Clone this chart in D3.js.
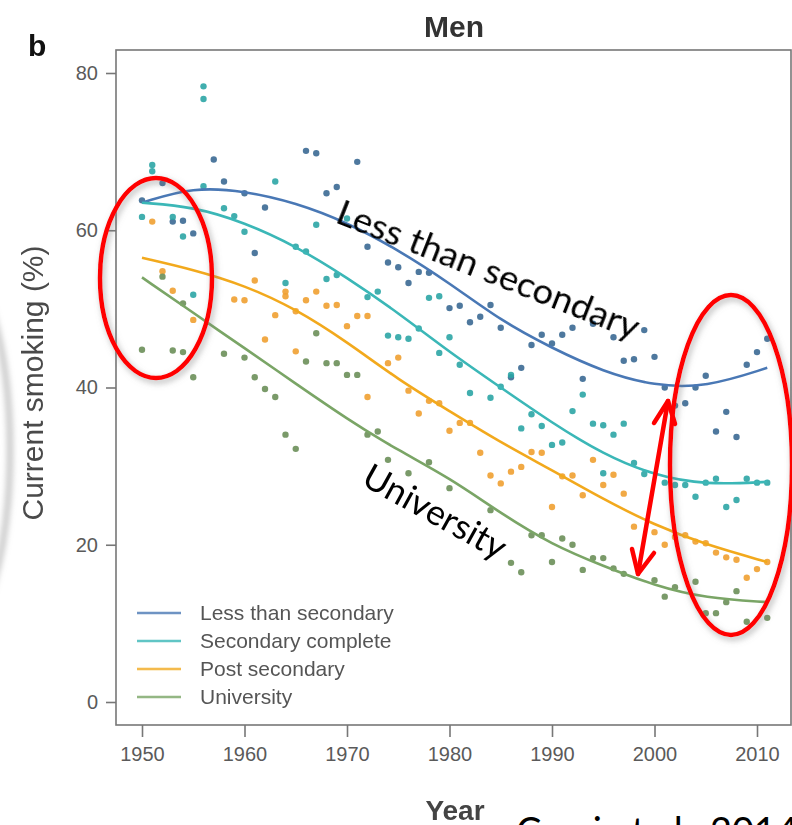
<!DOCTYPE html>
<html>
<head>
<meta charset="utf-8">
<script src="https://cdn.jsdelivr.net/npm/d3@7"></script>
<style>
body { margin: 0; background: #fff; }
</style>
</head>
<body>
<script>
// education groups
const groups = ["Less than secondary", "Secondary complete", "Post secondary", "University"];
const lineColors = ["#4a78b5", "#3ab7b7", "#f2a91f", "#7aa566"];
const dotColors = ["#3b6a93", "#2ba5a5", "#f0a030", "#6c8f5a"];

// survey points [year, % smoking]
const lessPts = [[1950,63.8],[1952,66.0],[1953,61.1],[1954,61.2],[1955,59.6],[1957,69.0],[1958,66.2],[1960,64.7],[1961,57.1],[1962,62.9],[1966,70.1],[1967,69.8],[1968,64.7],[1969,65.5],[1971,68.7],[1972,57.9],[1974,55.9],[1975,55.3],[1976,53.3],[1977,54.7],[1978,54.6],[1980,50.1],[1981,50.4],[1982,48.3],[1983,49.0],[1984,50.5],[1985,47.6],[1986,41.3],[1987,42.5],[1988,45.4],[1989,46.7],[1990,45.6],[1991,46.7],[1992,47.6],[1993,41.1],[1994,48.1],[1996,46.4],[1997,43.4],[1998,43.6],[1999,47.3],[2000,43.9],[2001,40.0],[2002,37.7],[2003,38.0],[2004,40.0],[2005,41.5],[2006,34.4],[2007,36.9],[2008,33.7],[2009,42.9],[2010,44.5],[2011,46.2]];
const secPts = [[1950,61.7],[1951,68.3],[1951,67.5],[1953,61.7],[1954,59.2],[1955,51.8],[1956,78.3],[1956,76.7],[1956,65.6],[1958,62.8],[1959,61.8],[1960,59.8],[1963,66.2],[1964,53.3],[1965,57.9],[1966,57.3],[1967,60.7],[1968,53.8],[1969,54.3],[1970,61.5],[1972,51.5],[1973,52.2],[1974,46.6],[1975,46.4],[1976,46.2],[1977,47.5],[1978,51.4],[1979,51.6],[1979,44.4],[1980,46.4],[1981,42.9],[1982,39.3],[1984,38.7],[1985,40.1],[1986,41.6],[1987,34.8],[1988,36.6],[1989,35.1],[1990,32.7],[1991,33.0],[1992,37.0],[1993,39.1],[1994,35.4],[1995,35.2],[1995,29.1],[1996,34.0],[1997,35.4],[1998,30.4],[1999,29.0],[2001,27.9],[2002,27.6],[2003,27.6],[2004,26.1],[2005,27.9],[2006,28.4],[2007,24.8],[2008,25.7],[2009,28.4],[2010,27.9],[2011,27.9]];
const postPts = [[1951,61.1],[1952,54.8],[1953,52.3],[1955,48.6],[1959,51.2],[1960,51.1],[1961,53.6],[1962,46.1],[1963,49.2],[1964,52.2],[1964,51.6],[1965,49.7],[1965,44.6],[1966,51.1],[1967,52.2],[1968,50.4],[1969,50.5],[1970,47.8],[1971,49.1],[1972,49.1],[1972,38.8],[1974,43.1],[1975,43.8],[1976,39.6],[1977,36.7],[1978,38.3],[1979,38.0],[1980,34.5],[1981,35.5],[1982,35.5],[1983,31.7],[1984,28.8],[1985,27.8],[1986,29.3],[1987,29.9],[1988,31.8],[1989,31.7],[1990,24.8],[1991,28.7],[1992,28.8],[1993,26.3],[1994,30.8],[1995,27.6],[1996,28.9],[1997,26.5],[1998,22.3],[2000,21.6],[2001,20.0],[2002,21.0],[2003,21.2],[2004,20.4],[2005,20.2],[2006,19.0],[2007,18.4],[2008,18.1],[2009,15.8],[2010,16.9],[2011,17.8]];
const uniPts = [[1950,44.8],[1952,54.1],[1953,44.7],[1954,44.5],[1954,50.7],[1955,41.3],[1958,44.3],[1960,43.8],[1961,41.3],[1962,39.8],[1963,38.8],[1964,34.0],[1965,32.2],[1966,43.3],[1967,46.9],[1968,43.1],[1969,43.1],[1970,41.6],[1971,41.6],[1972,34.0],[1973,34.4],[1974,30.8],[1976,29.1],[1978,30.5],[1980,27.2],[1984,24.4],[1986,17.7],[1987,16.5],[1988,21.2],[1989,21.2],[1990,17.8],[1991,20.8],[1992,20.0],[1993,16.8],[1994,18.3],[1995,18.3],[1996,17.0],[1997,16.3],[2000,15.5],[2001,13.4],[2002,14.6],[2004,15.3],[2005,11.3],[2006,11.3],[2007,12.7],[2008,14.1],[2009,10.2],[2011,10.7]];

// smoothed trend lines
const fitYears = [1950, 1955, 1960, 1965, 1970, 1975, 1980, 1985, 1990, 1995, 2000, 2005, 2011];
const lessFit = [63.5, 65.5, 65.0, 63.5, 61.0, 57.5, 53.3, 48.5, 45.0, 42.0, 40.2, 40.0, 42.5];
const secFit = [63.5, 63.0, 61.0, 58.0, 54.0, 49.5, 44.5, 40.0, 35.5, 31.5, 28.8, 27.6, 28.0];
const postFit = [56.5, 55.0, 53.0, 50.0, 45.8, 41.0, 37.0, 33.0, 29.5, 25.8, 22.5, 20.0, 17.8];
const uniFit = [54.0, 49.5, 45.0, 40.5, 36.0, 32.0, 28.5, 24.0, 20.0, 17.3, 14.8, 13.2, 12.7];

const xTicks = [1950, 1960, 1970, 1980, 1990, 2000, 2010];
const yTicks = [0, 20, 40, 60, 80];

const allPts = [lessPts, secPts, postPts, uniPts];
const allFits = [lessFit, secFit, postFit, uniFit];

const width = 792, height = 825;
const box = { left: 116, top: 50, right: 791, bottom: 725 };

const svg = d3.select("body").append("svg")
    .attr("width", width)
    .attr("height", height)
    .style("font-family", "'Liberation Sans', Arial, sans-serif");

const defs = svg.append("defs");
const shadow = defs.append("filter").attr("id", "shadow")
    .attr("x", "-20%").attr("y", "-20%").attr("width", "140%").attr("height", "140%");
shadow.append("feDropShadow")
    .attr("dx", 2).attr("dy", 3).attr("stdDeviation", 3)
    .attr("flood-color", "#777").attr("flood-opacity", 0.55);
defs.append("filter").attr("id", "soft")
    .append("feGaussianBlur").attr("stdDeviation", 0.6);
defs.append("filter").attr("id", "blur3")
    .append("feGaussianBlur").attr("stdDeviation", 3);

const x = d3.scaleLinear().domain([1950, 2010]).range([142, 757]);
const y = d3.scaleLinear().domain([0, 80]).range([702, 73]);

// faint cut-off ellipse on left edge
svg.append("ellipse")
    .attr("cx", -48).attr("cy", 450).attr("rx", 58).attr("ry", 190)
    .attr("fill", "none").attr("stroke", "#aaa").attr("stroke-width", 4)
    .attr("filter", "url(#blur3)");

// plot frame
svg.append("rect")
    .attr("x", box.left).attr("y", box.top)
    .attr("width", box.right - box.left).attr("height", box.bottom - box.top)
    .attr("fill", "none").attr("stroke", "#777").attr("stroke-width", 1.6);

// axes
const yAxis = svg.append("g")
    .attr("transform", `translate(${box.left},0)`)
    .call(d3.axisLeft(y).tickValues(yTicks).tickSize(10).tickPadding(8));
const xAxis = svg.append("g")
    .attr("transform", `translate(0,${box.bottom})`)
    .call(d3.axisBottom(x).tickValues(xTicks).tickFormat(d3.format("d")).tickSize(12).tickPadding(10));
[yAxis, xAxis].forEach(a => {
    a.select(".domain").remove();
    a.selectAll("line").attr("stroke", "#777").attr("stroke-width", 1.6);
    a.selectAll("text").attr("fill", "#5a5a5a").style("font-size", "20px")
        .style("font-family", "'Liberation Sans', Arial, sans-serif");
});

const plot = svg.append("g").attr("filter", "url(#soft)");

// points
allPts.forEach((pts, i) => {
    plot.append("g")
        .selectAll("circle")
        .data(pts)
        .enter().append("circle")
        .attr("cx", d => x(d[0]))
        .attr("cy", d => y(d[1]))
        .attr("r", 3.2)
        .attr("fill", dotColors[i])
        .attr("opacity", 0.9);
});

// trend lines
const line = d3.line()
    .x(d => x(d[0]))
    .y(d => y(d[1]))
    .curve(d3.curveBasis);
allFits.forEach((fit, i) => {
    plot.append("path")
        .datum(fitYears.map((yr, j) => [yr, fit[j]]))
        .attr("d", line)
        .attr("fill", "none")
        .attr("stroke", lineColors[i])
        .attr("stroke-width", 2.6);
});

// legend
const legend = svg.append("g").attr("filter", "url(#soft)");
groups.forEach((g, i) => {
    const ly = 613 + i * 28;
    legend.append("line")
        .attr("x1", 137).attr("x2", 181).attr("y1", ly).attr("y2", ly)
        .attr("stroke", lineColors[i]).attr("stroke-width", 2.4).attr("opacity", 0.8);
    legend.append("text")
        .attr("x", 200).attr("y", ly + 7)
        .attr("fill", "#555").style("font-size", "21px")
        .text(g);
});

// titles
svg.append("text").attr("x", 454).attr("y", 37)
    .attr("text-anchor", "middle").attr("fill", "#333")
    .style("font-size", "30px").style("font-weight", "bold")
    .text("Men");
svg.append("text").attr("x", 28).attr("y", 56)
    .attr("fill", "#111").style("font-size", "30px").style("font-weight", "bold")
    .text("b");
svg.append("text").attr("x", 455).attr("y", 820)
    .attr("text-anchor", "middle").attr("fill", "#444")
    .style("font-size", "28px").style("font-weight", "bold")
    .text("Year");
svg.append("text")
    .attr("transform", "translate(43,383) rotate(-90)")
    .attr("text-anchor", "middle").attr("fill", "#4a4a4a")
    .style("font-size", "30px")
    .text("Current smoking (%)");

// annotations
const anno = svg.append("g").style("font-family", "Lato, 'Open Sans', sans-serif").attr("fill", "#000");
anno.append("text")
    .attr("transform", "translate(334,222) rotate(21.5)")
    .attr("textLength", 322).attr("lengthAdjust", "spacingAndGlyphs")
    .style("font-size", "35px")
    .text("Less than secondary");
anno.append("text")
    .attr("transform", "translate(360,484) rotate(29)")
    .attr("textLength", 158).attr("lengthAdjust", "spacingAndGlyphs")
    .style("font-size", "35px")
    .text("University");
anno.append("text")
    .attr("x", 516).attr("y", 845)
    .style("font-size", "38px")
    .text("Corsi et al., 2014");

// red highlights
const red = svg.append("g").attr("fill", "none").attr("stroke", "#f00").attr("stroke-width", 4.5);
red.append("ellipse").attr("cx", 156).attr("cy", 278).attr("rx", 56).attr("ry", 100)
    .attr("filter", "url(#shadow)");
red.append("ellipse").attr("cx", 731).attr("cy", 465).attr("rx", 61).attr("ry", 170)
    .attr("filter", "url(#shadow)");
const arrow = red.append("g").attr("stroke-linecap", "round").attr("stroke-linejoin", "round");
arrow.append("line").attr("x1", 668).attr("y1", 401).attr("x2", 638).attr("y2", 574);
arrow.append("polyline").attr("points", "654,423 668,401 675,424");
arrow.append("polyline").attr("points", "632,549 638,574 654,553");
</script>
</body>
</html>
